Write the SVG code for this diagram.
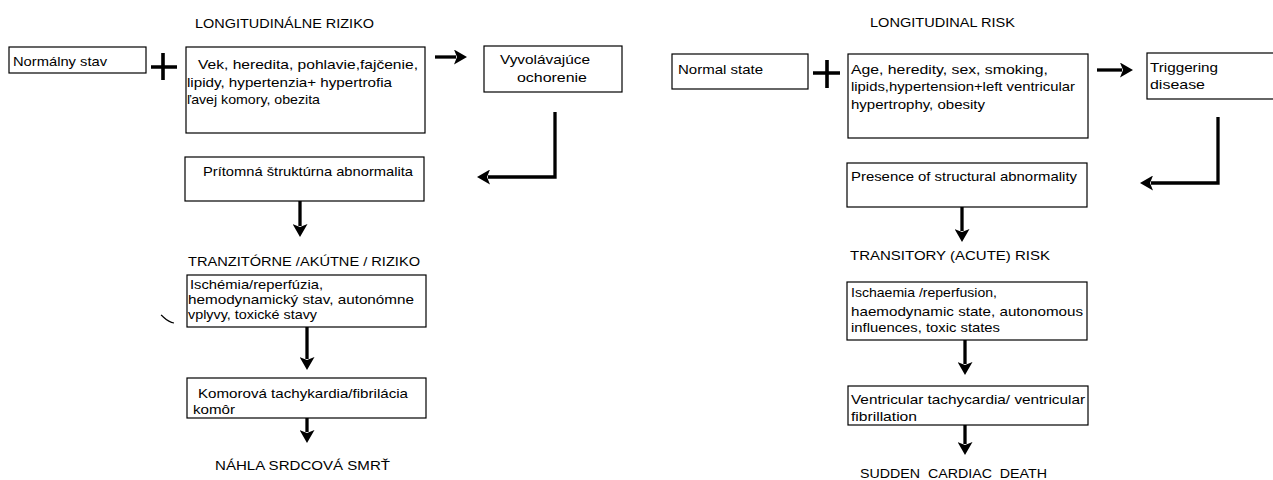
<svg xmlns="http://www.w3.org/2000/svg" width="1273" height="480" viewBox="0 0 1273 480">
<style>
  .box { fill: #fff; stroke: #000; stroke-width: 1.2; }
  text { font-family: "Liberation Sans", Arial, sans-serif; font-size: 13px; fill: #000; white-space: pre; }
  .con { fill: none; stroke: #000; stroke-width: 3.3; }
  .plus { fill: none; stroke: #000; stroke-width: 3.6; }
</style>
<defs>
  <marker id="ah" viewBox="0 0 13 15" markerUnits="userSpaceOnUse" markerWidth="13" markerHeight="15" refX="2" refY="7.5" orient="auto">
    <path d="M0,0 L13,7.5 L0,15 L3,7.5 z" fill="#000"/>
  </marker>
</defs>
<rect width="1273" height="480" fill="#fff"/>

<!-- Left (Slovak) -->
<g id="title_sk"><text x="195" y="28" textLength="179" lengthAdjust="spacingAndGlyphs">LONGITUDINÁLNE RIZIKO</text></g>
<g id="n_normal_sk"><rect class="box" x="9" y="47" width="137" height="26"/><text x="13" y="66" textLength="94" lengthAdjust="spacingAndGlyphs">Normálny stav</text></g>
<g id="n_factors_sk"><rect class="box" x="186" y="47" width="239" height="86"/>
  <text x="198" y="69" textLength="220" lengthAdjust="spacingAndGlyphs">Vek, heredita, pohlavie,fajčenie,</text>
  <text x="187" y="87" textLength="205" lengthAdjust="spacingAndGlyphs">lipidy, hypertenzia+ hypertrofia</text>
  <text x="187" y="104" textLength="133" lengthAdjust="spacingAndGlyphs">ľavej komory, obezita</text></g>
<g id="n_trigger_sk"><rect class="box" x="484" y="46" width="138" height="46"/>
  <text x="500" y="64" textLength="90" lengthAdjust="spacingAndGlyphs">Vyvolávajúce</text>
  <text x="517" y="82" textLength="70" lengthAdjust="spacingAndGlyphs">ochorenie</text></g>
<g id="n_struct_sk"><rect class="box" x="185" y="157" width="239" height="44"/>
  <text x="203" y="176" textLength="210" lengthAdjust="spacingAndGlyphs">Prítomná štruktúrna abnormalita</text></g>
<g id="title2_sk"><text x="188" y="266" textLength="232" lengthAdjust="spacingAndGlyphs">TRANZITÓRNE /AKÚTNE / RIZIKO</text></g>
<g id="n_isch_sk"><rect class="box" x="187" y="275" width="239" height="52"/>
  <text x="190" y="289" textLength="133" lengthAdjust="spacingAndGlyphs">Ischémia/reperfúzia,</text>
  <text x="188" y="304" textLength="226" lengthAdjust="spacingAndGlyphs">hemodynamický stav, autonómne</text>
  <text x="188" y="319" textLength="129" lengthAdjust="spacingAndGlyphs">vplyvy, toxické stavy</text></g>
<g id="n_vt_sk"><rect class="box" x="187" y="378" width="239" height="40"/>
  <text x="198" y="398" textLength="210" lengthAdjust="spacingAndGlyphs">Komorová tachykardia/fibrilácia</text>
  <text x="193" y="414" textLength="42" lengthAdjust="spacingAndGlyphs">komôr</text></g>
<g id="end_sk"><text x="215" y="470" textLength="175" lengthAdjust="spacingAndGlyphs">NÁHLA SRDCOVÁ SMRŤ</text></g>

<!-- Right (English) -->
<g id="title_en"><text x="870" y="27" textLength="145" lengthAdjust="spacingAndGlyphs">LONGITUDINAL RISK</text></g>
<g id="n_normal_en"><rect class="box" x="672" y="54" width="136" height="35"/><text x="678" y="74" textLength="85" lengthAdjust="spacingAndGlyphs">Normal state</text></g>
<g id="n_factors_en"><rect class="box" x="848" y="54" width="240" height="84"/>
  <text x="851" y="74" textLength="197" lengthAdjust="spacingAndGlyphs">Age, heredity, sex, smoking,</text>
  <text x="851" y="91" textLength="224" lengthAdjust="spacingAndGlyphs">lipids,hypertension+left ventricular</text>
  <text x="851" y="109" textLength="134" lengthAdjust="spacingAndGlyphs">hypertrophy, obesity</text></g>
<g id="n_trigger_en"><rect class="box" x="1147" y="53" width="140" height="46"/>
  <text x="1150" y="72" textLength="68" lengthAdjust="spacingAndGlyphs">Triggering</text>
  <text x="1150" y="89" textLength="55" lengthAdjust="spacingAndGlyphs">disease</text></g>
<g id="n_struct_en"><rect class="box" x="847" y="163" width="240" height="44"/>
  <text x="851" y="181" textLength="226" lengthAdjust="spacingAndGlyphs">Presence of structural abnormality</text></g>
<g id="title2_en"><text x="850" y="260" textLength="200" lengthAdjust="spacingAndGlyphs">TRANSITORY (ACUTE) RISK</text></g>
<g id="n_isch_en"><rect class="box" x="847" y="282" width="240" height="58"/>
  <text x="851" y="297" textLength="146" lengthAdjust="spacingAndGlyphs">Ischaemia /reperfusion,</text>
  <text x="851" y="316" textLength="232" lengthAdjust="spacingAndGlyphs">haemodynamic state, autonomous</text>
  <text x="851" y="332" textLength="149" lengthAdjust="spacingAndGlyphs">influences, toxic states</text></g>
<g id="n_vt_en"><rect class="box" x="848" y="386" width="240" height="39"/>
  <text x="851" y="404" textLength="234" lengthAdjust="spacingAndGlyphs">Ventricular tachycardia/ ventricular</text>
  <text x="851" y="421" textLength="66" lengthAdjust="spacingAndGlyphs">fibrillation</text></g>
<g id="end_en"><text x="860" y="478" textLength="187" lengthAdjust="spacingAndGlyphs">SUDDEN  CARDIAC  DEATH</text></g>

<!-- Connectors -->
<g id="connectors">
  <path class="plus" d="M163,53 V80 M151,67 H177"/>
  <path class="plus" d="M827,60 V88 M813,73 H840"/>
  <path class="con" d="M435,57 H456" marker-end="url(#ah)"/>
  <path class="con" d="M555,112 V177 H488" marker-end="url(#ah)"/>
  <path class="con" d="M300,201 V226" marker-end="url(#ah)"/>
  <path class="con" d="M307,327 V359" marker-end="url(#ah)"/>
  <path class="con" d="M307,418 V432" marker-end="url(#ah)"/>
  <path class="con" d="M1097,70 H1122" marker-end="url(#ah)"/>
  <path class="con" d="M1218,117 V183 H1151" marker-end="url(#ah)"/>
  <path class="con" d="M962,207 V231" marker-end="url(#ah)"/>
  <path class="con" d="M965,340 V364" marker-end="url(#ah)"/>
  <path class="con" d="M965,425 V444" marker-end="url(#ah)"/>
  <path d="M161,315 C164,317 167,322 174,323" fill="none" stroke="#000" stroke-width="1.2"/>
</g>
</svg>
